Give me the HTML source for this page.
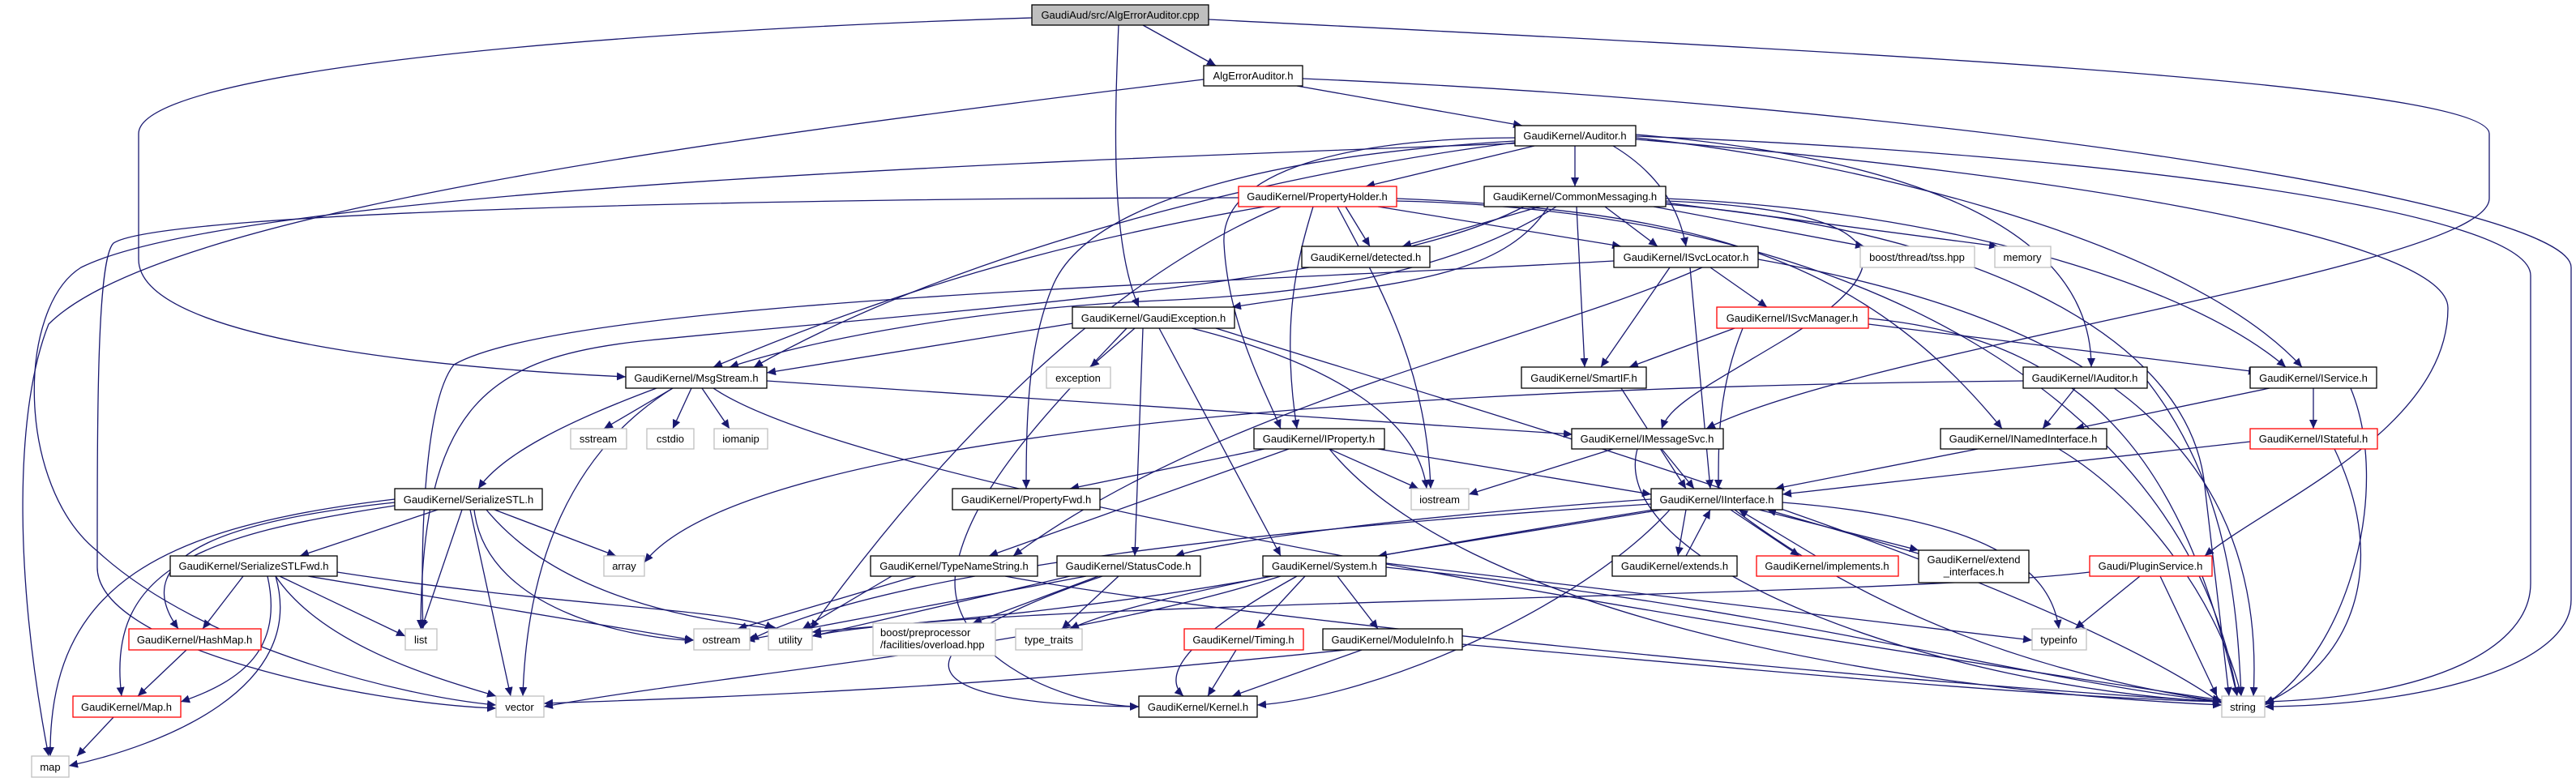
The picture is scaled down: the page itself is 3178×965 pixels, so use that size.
<!DOCTYPE html>
<html><head><meta charset="utf-8"><style>
html,body{margin:0;padding:0;background:#fff;}
svg{display:block;}
text{font-family:"Liberation Sans",Arial,sans-serif;font-size:13px;fill:#000;}
.e{fill:none;stroke:#191970;stroke-width:1.3;marker-end:url(#a);}
.n{fill:#fff;stroke:#000;stroke-width:1.3;}
.g{fill:#fff;stroke:#bfbfbf;stroke-width:1.3;}
.r{fill:#fff;stroke:#ff0000;stroke-width:1.3;}
</style></head><body>
<svg width="3178" height="965" viewBox="0 0 3178 965" xmlns="http://www.w3.org/2000/svg">
<defs><marker id="a" markerUnits="userSpaceOnUse" markerWidth="12" markerHeight="10" refX="11" refY="5" orient="auto"><path d="M0,0 L11,5 L0,10 z" fill="#191970"/></marker></defs>
<g>
<path class="e" d="M1410,31 L1500,81"/>
<path class="e" d="M1380,31 C1375,150 1370,300 1405,379"/>
<path class="e" d="M1273,22 C700,40 171,90 171,165 L171,320 C171,420 550,455 772,465"/>
<path class="e" d="M1491,24 C2200,60 3071,100 3071,165 L3071,245 C3071,330 2300,430 2105,529"/>
<path class="e" d="M1600,106 L1878,155"/>
<path class="e" d="M1485,98 C900,170 200,260 60,400 C20,500 15,700 60,933"/>
<path class="e" d="M1607,97 C2400,130 3172,250 3172,330 L3172,740 C3172,820 3000,870 2794,872"/>
<path class="e" d="M1893,180 L1685,230"/>
<path class="e" d="M1943,180 L1943,230"/>
<path class="e" d="M1990,180 C2040,210 2070,250 2080,304"/>
<path class="e" d="M1869,170 C1700,170 1505,200 1510,300 C1515,400 1560,480 1580,529"/>
<path class="e" d="M1869,174 C1600,190 1350,240 1300,350 C1270,420 1266,500 1266,603"/>
<path class="e" d="M1869,177 C1400,195 300,230 100,330 C20,380 20,600 120,680 C250,800 500,860 612,870"/>
<path class="e" d="M1528,244 C1000,244 200,260 140,300 C120,320 120,500 120,700 C120,800 450,868 612,874"/>
<path class="e" d="M1869,176 C1600,210 1200,300 930,453"/>
<path class="e" d="M2018,166 C2300,190 2580,260 2580,453"/>
<path class="e" d="M2018,170 C2300,200 2700,300 2840,453"/>
<path class="e" d="M2018,168 C2600,190 3122,260 3122,340 L3122,720 C3122,800 3000,860 2794,866"/>
<path class="e" d="M2018,172 C2600,220 3020,300 3020,380 C3020,530 2800,620 2720,686"/>
<path class="e" d="M1900,255 L1730,304"/>
<path class="e" d="M1980,255 L2045,304"/>
<path class="e" d="M1945,255 L1955,453"/>
<path class="e" d="M1920,255 C1800,330 1650,360 1450,370 C1200,380 1000,420 900,453"/>
<path class="e" d="M1910,255 C1850,350 1700,350 1520,379"/>
<path class="e" d="M2040,255 L2300,304"/>
<path class="e" d="M2055,250 L2465,304"/>
<path class="e" d="M2055,245 C2400,260 2700,350 2820,453"/>
<path class="e" d="M2055,248 C2350,260 2350,330 2200,420 C2100,480 2060,500 2050,529"/>
<path class="e" d="M2055,252 C2400,280 2700,400 2720,600 L2750,859"/>
<path class="e" d="M1880,255 C1700,350 1200,380 800,420 C600,440 520,500 519,776"/>
<path class="e" d="M1723,245 C2100,260 2300,320 2470,529"/>
<path class="e" d="M1660,255 L1690,304"/>
<path class="e" d="M1700,255 L2000,304"/>
<path class="e" d="M1560,255 C1300,300 1100,360 880,453"/>
<path class="e" d="M1620,255 C1600,320 1580,400 1600,529"/>
<path class="e" d="M1650,255 C1700,350 1760,450 1765,603"/>
<path class="e" d="M1580,255 C1400,330 1200,500 1000,776"/>
<path class="e" d="M1723,248 C2300,260 2700,500 2760,859"/>
<path class="e" d="M2110,330 L2180,379"/>
<path class="e" d="M2060,330 L1975,453"/>
<path class="e" d="M2085,330 L2110,603"/>
<path class="e" d="M2100,330 C1900,420 1500,500 1250,686"/>
<path class="e" d="M1991,322 C1500,350 700,370 560,450 C520,500 519,700 522,776"/>
<path class="e" d="M2169,320 C2500,380 2800,500 2780,859"/>
<path class="e" d="M1400,405 L1345,453"/>
<path class="e" d="M1330,398 L946,460"/>
<path class="e" d="M1410,405 L1400,686"/>
<path class="e" d="M1430,405 L1580,686"/>
<path class="e" d="M1470,405 C1650,450 1750,520 1760,603"/>
<path class="e" d="M1500,405 C1800,500 2500,700 2741,868"/>
<path class="e" d="M1390,405 C1300,500 1200,600 1180,700 C1160,800 1300,870 1405,872"/>
<path class="e" d="M2140,405 L2010,453"/>
<path class="e" d="M2305,400 L2785,459"/>
<path class="e" d="M2150,405 C2120,480 2120,540 2120,603"/>
<path class="e" d="M2305,393 C2600,420 2700,600 2760,859"/>
<path class="e" d="M830,479 L745,529"/>
<path class="e" d="M853,479 L830,529"/>
<path class="e" d="M866,479 L900,529"/>
<path class="e" d="M810,479 C700,520 620,560 590,603"/>
<path class="e" d="M946,470 L1940,536"/>
<path class="e" d="M830,479 C700,560 650,700 645,859"/>
<path class="e" d="M880,479 C1000,560 1500,680 2741,864"/>
<path class="e" d="M2000,479 L2080,603"/>
<path class="e" d="M2560,479 L2520,529"/>
<path class="e" d="M2649,470 C2750,600 2760,750 2765,859"/>
<path class="e" d="M2496,470 C1500,480 900,560 795,694"/>
<path class="e" d="M2800,479 L2560,529"/>
<path class="e" d="M2854,479 L2854,529"/>
<path class="e" d="M2900,479 C2950,600 2900,800 2794,870"/>
<path class="e" d="M1560,554 L1320,603"/>
<path class="e" d="M1640,554 L1750,603"/>
<path class="e" d="M1700,554 L2037,610"/>
<path class="e" d="M1640,554 C1800,750 2300,850 2741,870"/>
<path class="e" d="M1590,554 L1220,686"/>
<path class="e" d="M1990,554 L1812,610"/>
<path class="e" d="M2050,554 L2090,603"/>
<path class="e" d="M2020,554 C1980,700 2400,850 2741,866"/>
<path class="e" d="M2440,554 L2190,603"/>
<path class="e" d="M2540,554 C2650,620 2740,750 2765,859"/>
<path class="e" d="M2776,545 L2199,610"/>
<path class="e" d="M2880,554 C2950,700 2900,820 2794,868"/>
<path class="e" d="M540,629 L370,686"/>
<path class="e" d="M610,629 L760,686"/>
<path class="e" d="M570,629 L520,776"/>
<path class="e" d="M580,629 L630,859"/>
<path class="e" d="M585,629 C600,760 800,790 856,790"/>
<path class="e" d="M600,629 C700,750 900,770 960,776"/>
<path class="e" d="M487,620 C300,640 150,680 220,776"/>
<path class="e" d="M487,624 C250,660 130,700 150,859"/>
<path class="e" d="M487,616 C200,650 60,720 62,933"/>
<path class="e" d="M2037,616 C1700,640 1500,670 1450,686"/>
<path class="e" d="M2050,629 L1700,686"/>
<path class="e" d="M2080,629 L2070,686"/>
<path class="e" d="M2080,686 L2110,629"/>
<path class="e" d="M2135,629 L2220,686"/>
<path class="e" d="M2240,686 L2145,629"/>
<path class="e" d="M2170,629 L2367,679"/>
<path class="e" d="M2370,684 L2180,629"/>
<path class="e" d="M2199,620 C2450,640 2530,700 2540,776"/>
<path class="e" d="M2060,629 C1950,750 1700,860 1551,870"/>
<path class="e" d="M2037,622 C1600,650 1100,700 925,790"/>
<path class="e" d="M2040,629 C1600,700 1400,740 1320,776"/>
<path class="e" d="M2140,629 C2300,750 2500,830 2741,866"/>
<path class="e" d="M300,711 L250,776"/>
<path class="e" d="M330,711 C350,800 300,840 223,866"/>
<path class="e" d="M340,711 C380,850 200,920 85,945"/>
<path class="e" d="M345,711 L500,785"/>
<path class="e" d="M340,711 C400,800 550,840 612,859"/>
<path class="e" d="M380,711 L856,790"/>
<path class="e" d="M416,706 C700,750 900,750 955,776"/>
<path class="e" d="M1130,711 L910,776"/>
<path class="e" d="M1100,711 L990,776"/>
<path class="e" d="M1240,711 C1500,760 2300,840 2741,866"/>
<path class="e" d="M1340,711 L920,790"/>
<path class="e" d="M1320,711 L1002,785"/>
<path class="e" d="M1355,711 L1200,769"/>
<path class="e" d="M1380,711 L1310,776"/>
<path class="e" d="M1360,711 C1100,800 1100,870 1405,872"/>
<path class="e" d="M1610,711 L1550,776"/>
<path class="e" d="M1650,711 L1700,776"/>
<path class="e" d="M1600,711 C1440,800 1440,840 1460,859"/>
<path class="e" d="M1580,711 C1300,800 900,830 671,872"/>
<path class="e" d="M1710,700 C2200,750 2500,840 2741,866"/>
<path class="e" d="M1710,695 L2507,790"/>
<path class="e" d="M1570,711 C1300,760 1100,770 1002,780"/>
<path class="e" d="M2640,711 L2560,776"/>
<path class="e" d="M2665,711 L2735,859"/>
<path class="e" d="M2578,706 C2300,740 1200,740 1002,785"/>
<path class="e" d="M230,802 L170,859"/>
<path class="e" d="M140,885 L95,933"/>
<path class="e" d="M1525,802 L1490,859"/>
<path class="e" d="M1680,802 L1520,859"/>
<path class="e" d="M1660,802 C1200,850 900,860 671,868"/>
<path class="e" d="M1804,795 C2100,820 2500,860 2741,866"/>
</g>
<g text-anchor="middle">
<rect x="1273" y="6" width="218" height="25" fill="#bfbfbf" stroke="#000" stroke-width="1.3"/><text x="1382" y="23">GaudiAud/src/AlgErrorAuditor.cpp</text>
<rect class="n" x="1485" y="81" width="122" height="25"/><text x="1546" y="98">AlgErrorAuditor.h</text>
<rect class="n" x="1869" y="155" width="149" height="25"/><text x="1943" y="172">GaudiKernel/Auditor.h</text>
<rect class="r" x="1528" y="230" width="195" height="25"/><text x="1625" y="247">GaudiKernel/PropertyHolder.h</text>
<rect class="n" x="1831" y="230" width="224" height="25"/><text x="1943" y="247">GaudiKernel/CommonMessaging.h</text>
<rect class="n" x="1606" y="304" width="158" height="26"/><text x="1685" y="322">GaudiKernel/detected.h</text>
<rect class="n" x="1991" y="304" width="178" height="26"/><text x="2080" y="322">GaudiKernel/ISvcLocator.h</text>
<rect class="g" x="2295" y="304" width="141" height="26"/><text x="2365" y="322">boost/thread/tss.hpp</text>
<rect class="g" x="2461" y="304" width="69" height="26"/><text x="2495" y="322">memory</text>
<rect class="n" x="1323" y="379" width="200" height="26"/><text x="1423" y="397">GaudiKernel/GaudiException.h</text>
<rect class="r" x="2118" y="379" width="187" height="26"/><text x="2211" y="397">GaudiKernel/ISvcManager.h</text>
<rect class="n" x="772" y="453" width="174" height="26"/><text x="859" y="471">GaudiKernel/MsgStream.h</text>
<rect class="g" x="1291" y="453" width="79" height="26"/><text x="1330" y="471">exception</text>
<rect class="n" x="1877" y="453" width="154" height="26"/><text x="1954" y="471">GaudiKernel/SmartIF.h</text>
<rect class="n" x="2496" y="453" width="153" height="26"/><text x="2572" y="471">GaudiKernel/IAuditor.h</text>
<rect class="n" x="2776" y="453" width="156" height="26"/><text x="2854" y="471">GaudiKernel/IService.h</text>
<rect class="g" x="704" y="529" width="69" height="25"/><text x="738" y="546">sstream</text>
<rect class="g" x="798" y="529" width="58" height="25"/><text x="827" y="546">cstdio</text>
<rect class="g" x="881" y="529" width="66" height="25"/><text x="914" y="546">iomanip</text>
<rect class="n" x="1547" y="529" width="161" height="25"/><text x="1627" y="546">GaudiKernel/IProperty.h</text>
<rect class="n" x="1939" y="529" width="187" height="25"/><text x="2032" y="546">GaudiKernel/IMessageSvc.h</text>
<rect class="n" x="2394" y="529" width="205" height="25"/><text x="2496" y="546">GaudiKernel/INamedInterface.h</text>
<rect class="r" x="2776" y="529" width="157" height="25"/><text x="2854" y="546">GaudiKernel/IStateful.h</text>
<rect class="n" x="487" y="603" width="182" height="26"/><text x="578" y="621">GaudiKernel/SerializeSTL.h</text>
<rect class="n" x="1175" y="603" width="182" height="26"/><text x="1266" y="621">GaudiKernel/PropertyFwd.h</text>
<rect class="g" x="1741" y="603" width="71" height="26"/><text x="1776" y="621">iostream</text>
<rect class="n" x="2037" y="603" width="162" height="26"/><text x="2118" y="621">GaudiKernel/IInterface.h</text>
<rect class="n" x="210" y="686" width="206" height="25"/><text x="313" y="703">GaudiKernel/SerializeSTLFwd.h</text>
<rect class="g" x="745" y="686" width="50" height="25"/><text x="770" y="703">array</text>
<rect class="n" x="1074" y="686" width="206" height="25"/><text x="1177" y="703">GaudiKernel/TypeNameString.h</text>
<rect class="n" x="1304" y="686" width="177" height="25"/><text x="1392" y="703">GaudiKernel/StatusCode.h</text>
<rect class="n" x="1558" y="686" width="152" height="25"/><text x="1634" y="703">GaudiKernel/System.h</text>
<rect class="n" x="1989" y="686" width="154" height="25"/><text x="2066" y="703">GaudiKernel/extends.h</text>
<rect class="r" x="2167" y="686" width="175" height="25"/><text x="2254" y="703">GaudiKernel/implements.h</text>
<rect class="n" x="2367" y="679" width="136" height="40"/><text x="2435" y="695">GaudiKernel/extend</text><text x="2435" y="710">_interfaces.h</text>
<rect class="r" x="2578" y="686" width="151" height="25"/><text x="2653" y="703">Gaudi/PluginService.h</text>
<rect class="r" x="159" y="776" width="163" height="26"/><text x="240" y="794">GaudiKernel/HashMap.h</text>
<rect class="g" x="500" y="776" width="39" height="26"/><text x="519" y="794">list</text>
<rect class="g" x="856" y="776" width="69" height="26"/><text x="890" y="794">ostream</text>
<rect class="g" x="948" y="776" width="54" height="26"/><text x="975" y="794">utility</text>
<rect class="g" x="1077" y="769" width="151" height="40"/><text x="1086" y="785" text-anchor="start">boost/preprocessor</text><text x="1086" y="800" text-anchor="start">/facilities/overload.hpp</text>
<rect class="g" x="1253" y="776" width="82" height="26"/><text x="1294" y="794">type_traits</text>
<rect class="r" x="1461" y="776" width="147" height="26"/><text x="1534" y="794">GaudiKernel/Timing.h</text>
<rect class="n" x="1632" y="776" width="172" height="26"/><text x="1718" y="794">GaudiKernel/ModuleInfo.h</text>
<rect class="g" x="2507" y="776" width="67" height="26"/><text x="2540" y="794">typeinfo</text>
<rect class="r" x="90" y="859" width="133" height="26"/><text x="156" y="877">GaudiKernel/Map.h</text>
<rect class="g" x="612" y="859" width="59" height="26"/><text x="641" y="877">vector</text>
<rect class="n" x="1405" y="859" width="146" height="26"/><text x="1478" y="877">GaudiKernel/Kernel.h</text>
<rect class="g" x="2741" y="859" width="53" height="26"/><text x="2767" y="877">string</text>
<rect class="g" x="39" y="933" width="46" height="26"/><text x="62" y="951">map</text>
</g>
</svg>
</body></html>
